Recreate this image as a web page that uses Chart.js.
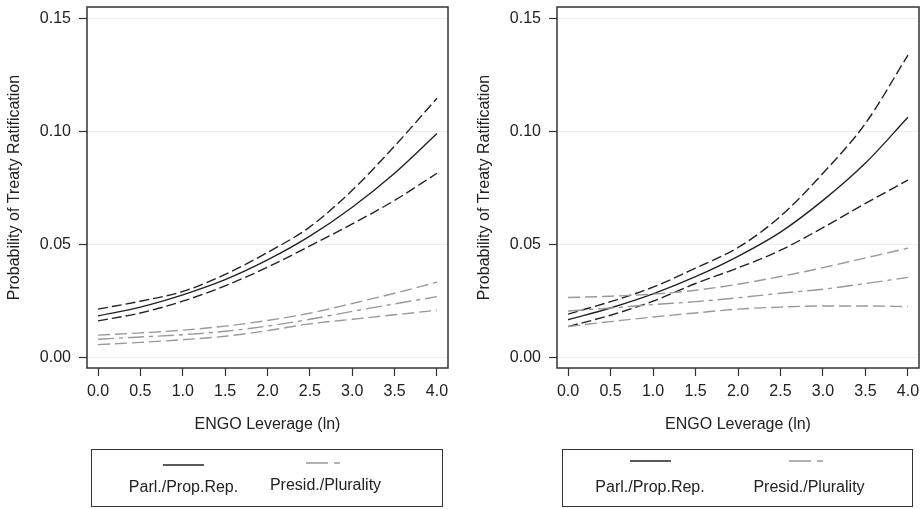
<!DOCTYPE html>
<html>
<head>
<meta charset="utf-8">
<script src="https://cdn.jsdelivr.net/npm/chart.js@4.4.1/dist/chart.umd.min.js"></script>
<style>
  body { margin: 0; background: #fff; font-family: "Liberation Sans", Arial, sans-serif; color: #222; }
  #wrap { position: relative; width: 923px; height: 509px; overflow: hidden; }
  canvas { position: absolute; top: 0; }
  .legend { position: absolute; top: 449px; height: 58px; border: 1.5px solid #333; box-sizing: border-box; }
  .item { position: absolute; font-size: 16px; white-space: nowrap; transform: translate(-50%, -50%); }
  .sample { position: absolute; }
</style>
</head>
<body>
<div id="wrap">
  <canvas id="leftChart" width="460" height="440" style="left:0"></canvas>
  <canvas id="rightChart" width="463" height="440" style="left:460px"></canvas>

  <div class="legend" style="left:91px; width:352px;"></div>
  <svg class="sample" style="left:0; top:0" width="923" height="509">
    <line x1="163" y1="465" x2="204" y2="465" stroke="#222" stroke-width="1.6"/>
    <line x1="306" y1="463" x2="346" y2="463" stroke="#999" stroke-width="1.6" stroke-dasharray="22 6 6 6"/>
    <line x1="630" y1="461" x2="671" y2="461" stroke="#222" stroke-width="1.6"/>
    <line x1="789" y1="461" x2="828" y2="461" stroke="#999" stroke-width="1.6" stroke-dasharray="22 6 6 6"/>
  </svg>
  <div class="item" style="left:183.5px; top:487px;">Parl./Prop.Rep.</div>
  <div class="item" style="left:325.5px; top:485px;">Presid./Plurality</div>

  <div class="legend" style="left:562px; width:351px;"></div>
  <div class="item" style="left:650px; top:487px;">Parl./Prop.Rep.</div>
  <div class="item" style="left:809px; top:487px;">Presid./Plurality</div>
</div>

<script>
// x 値（ENGO Leverage）と目盛り
const xVals = [0, 0.5, 1, 1.5, 2, 2.5, 3, 3.5, 4];
const xTicks = [0, 0.5, 1, 1.5, 2, 2.5, 3, 3.5, 4];
const yTicks = [0, 0.05, 0.10, 0.15];

// 左パネル
const leftParlMean   = [0.0185, 0.0224, 0.0278, 0.0345, 0.0432, 0.0537, 0.0665, 0.0815, 0.0990];
const leftParlUpper  = [0.0215, 0.0250, 0.0293, 0.0368, 0.0465, 0.0578, 0.0740, 0.0935, 0.1146];
const leftParlLower  = [0.0163, 0.0198, 0.0250, 0.0318, 0.0400, 0.0494, 0.0591, 0.0695, 0.0815];
const leftPresMean   = [0.0082, 0.0092, 0.0102, 0.0117, 0.0140, 0.0170, 0.0205, 0.0238, 0.0270];
const leftPresUpper  = [0.0100, 0.0110, 0.0122, 0.0140, 0.0165, 0.0197, 0.0240, 0.0285, 0.0334];
const leftPresLower  = [0.0058, 0.0068, 0.0080, 0.0095, 0.0120, 0.0150, 0.0170, 0.0190, 0.0210];

// 右パネル
const rightParlMean  = [0.0168, 0.0220, 0.0282, 0.0358, 0.0448, 0.0555, 0.0695, 0.0860, 0.1062];
const rightParlUpper = [0.0193, 0.0248, 0.0312, 0.0396, 0.0487, 0.0625, 0.0815, 0.1035, 0.1337];
const rightParlLower = [0.0138, 0.0188, 0.0250, 0.0328, 0.0397, 0.0475, 0.0575, 0.0682, 0.0785];
const rightPresMean  = [0.0207, 0.0220, 0.0235, 0.0248, 0.0265, 0.0285, 0.0303, 0.0328, 0.0355];
const rightPresUpper = [0.0266, 0.0272, 0.0281, 0.0298, 0.0325, 0.0359, 0.0398, 0.0441, 0.0484];
const rightPresLower = [0.0138, 0.0160, 0.0180, 0.0198, 0.0215, 0.0224, 0.0229, 0.0229, 0.0226];

const BLACK = '#222';
const GREY = '#999';
const FONT = { family: '"Liberation Sans", Arial, sans-serif', size: 16 };

// プロット枠を描くプラグイン
const framePlugin = {
    id: 'frame',
    afterDraw(chart) {
        const { ctx, chartArea: a } = chart;
        ctx.save();
        ctx.strokeStyle = '#333';
        ctx.lineWidth = 1.5;
        ctx.strokeRect(a.left, a.top, a.right - a.left, a.bottom - a.top);
        ctx.restore();
    }
};

function series(values, color, dash) {
    return {
        data: xVals.map((x, i) => ({ x: x, y: values[i] })),
        borderColor: color,
        borderWidth: 1.4,
        borderDash: dash,
        pointRadius: 0,
        cubicInterpolationMode: 'monotone',
        fill: false
    };
}

function drawPanel(id, data, padLeft, padRight) {
    const ctx = document.getElementById(id).getContext('2d');
    new Chart(ctx, {
        type: 'line',
        data: {
            datasets: [
                series(data[3], GREY, [12, 5]),
                series(data[4], GREY, [12, 5]),
                series(data[5], GREY, [16, 5, 4, 5]),
                series(data[1], BLACK, [10, 4]),
                series(data[2], BLACK, [10, 4]),
                series(data[0], BLACK, [])
            ]
        },
        options: {
            responsive: false,
            animation: false,
            devicePixelRatio: 1,
            layout: { padding: { left: padLeft, right: padRight, top: 7, bottom: 0 } },
            plugins: { legend: { display: false }, tooltip: { enabled: false } },
            scales: {
                x: {
                    type: 'linear',
                    min: -0.13,
                    max: 4.13,
                    afterBuildTicks: s => { s.ticks = xTicks.map(v => ({ value: v })); },
                    afterFit: s => { s.height = 72; s.paddingLeft = 0; s.paddingRight = 0; },
                    ticks: { autoSkip: false, maxRotation: 0, padding: 6, color: '#222', font: FONT,
                             callback: v => v.toFixed(1) },
                    grid: { drawOnChartArea: false, tickLength: 8, tickColor: '#333', tickWidth: 1.2 },
                    border: { display: false },
                    title: { display: true, text: 'ENGO Leverage (ln)', color: '#222', font: FONT,
                             padding: { top: 0, bottom: 6 } }
                },
                y: {
                    min: -0.0045,
                    max: 0.1549,
                    afterBuildTicks: s => { s.ticks = yTicks.map(v => ({ value: v })); },
                    afterFit: s => { s.width = 87; s.paddingTop = 0; s.paddingBottom = 0; },
                    ticks: { autoSkip: false, padding: 8, color: '#222', font: FONT,
                             callback: v => v.toFixed(2) },
                    grid: { color: '#eeeeee', lineWidth: 1, tickLength: 8, tickColor: '#333', tickWidth: 1.2 },
                    border: { display: false },
                    title: { display: true, text: 'Probability of Treaty Ratification', color: '#222', font: FONT,
                             padding: { top: 5, bottom: 0 } }
                }
            }
        },
        plugins: [framePlugin]
    });
}

drawPanel('leftChart', [leftParlMean, leftParlUpper, leftParlLower, leftPresUpper, leftPresLower, leftPresMean], 0, 12);
drawPanel('rightChart', [rightParlMean, rightParlUpper, rightParlLower, rightPresUpper, rightPresLower, rightPresMean], 10, 4);
</script>
</body>
</html>
